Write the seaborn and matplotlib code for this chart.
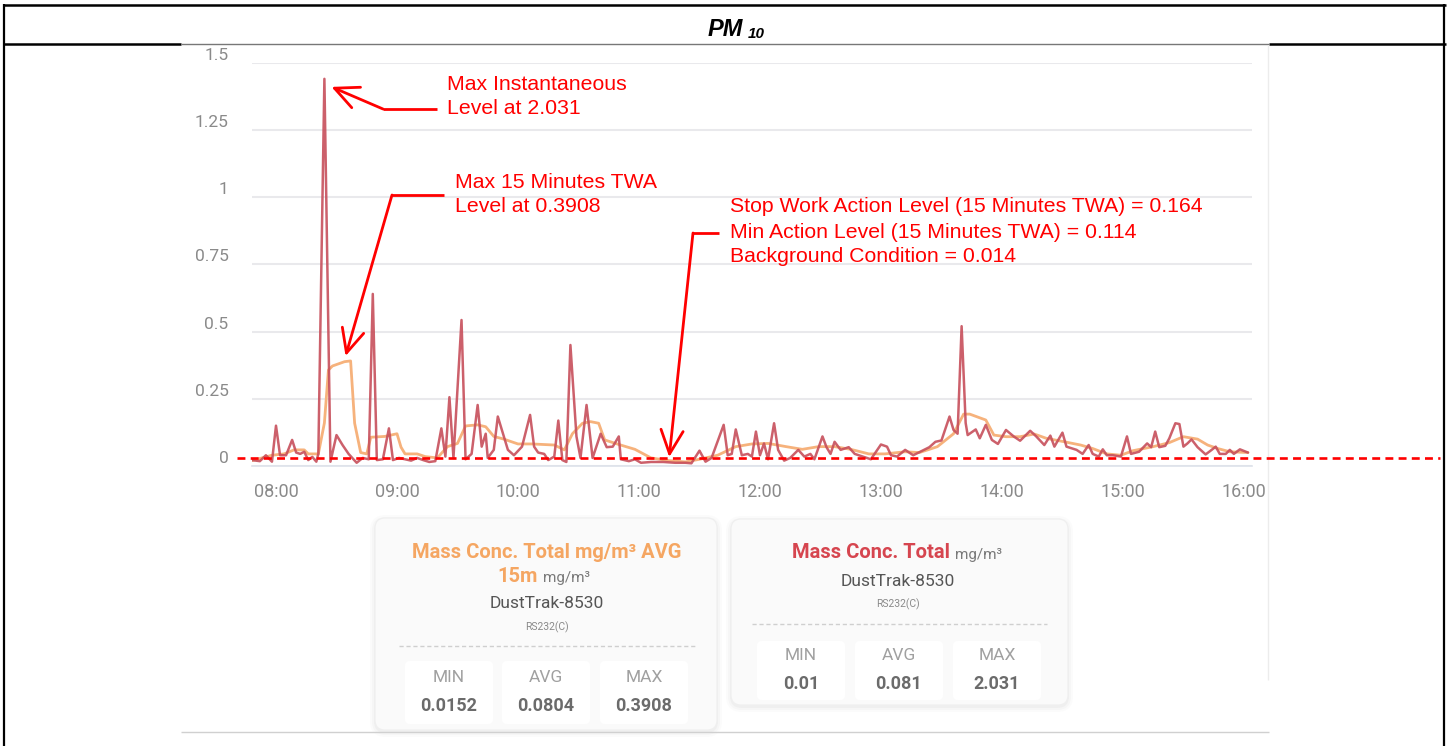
import numpy as np
import pandas as pd
import seaborn as sns
import matplotlib.pyplot as plt
import matplotlib.transforms as mtransforms
from matplotlib.patches import FancyBboxPatch
from matplotlib.lines import Line2D

# ---------------- data (minutes after 08:00, mg/m3) ----------------
red_t = [-12, -8, -5, -2, 0, 2, 5, 8, 10, 12, 14, 16, 18, 20, 21, 24, 27, 30, 33, 36,
         40, 43, 46, 48, 50, 53, 56, 58, 61, 64, 67, 70, 73, 76, 79, 82, 84, 86, 88, 92,
         94, 97, 100, 102, 104, 105, 108, 110, 113, 115, 118, 122, 126, 128, 130, 133, 135, 138, 140, 142,
         144, 146, 149, 151, 154, 157, 161, 164, 167, 170, 171, 175, 178, 181, 186, 192, 198, 203, 206, 210,
         213, 216, 222, 224, 226, 228, 231, 234, 236, 238, 240, 242, 244, 247, 249, 252, 255, 259, 262, 265,
         267, 271, 273, 275, 277, 280, 284, 287, 291, 295, 300, 303, 305, 308, 312, 316, 320, 324, 327, 330,
         334, 336, 338, 340, 342, 343, 347, 349, 352, 355, 358, 362, 366, 369, 374, 377, 381, 384, 386, 390,
         392, 397, 400, 403, 405, 408, 410, 412, 415, 419, 422, 424, 428, 432, 434, 436, 438, 441, 443, 446,
         448, 450, 452, 454, 457, 461, 464, 466, 468, 471, 473, 475, 478, 482]
red_v = [0.022, 0.018, 0.04, 0.016, 0.15, 0.04, 0.04, 0.097, 0.05, 0.045, 0.053, 0.022, 0.034, 0.016, 0.045, 1.44, 0.016, 0.115, 0.078, 0.045,
         0.012, 0.03, 0.025, 0.64, 0.022, 0.025, 0.14, 0.022, 0.03, 0.025, 0.02, 0.03, 0.022, 0.015, 0.018, 0.14, 0.035, 0.256, 0.03, 0.543,
         0.025, 0.045, 0.227, 0.072, 0.12, 0.03, 0.06, 0.184, 0.11, 0.06, 0.04, 0.072, 0.19, 0.072, 0.05, 0.045, 0.022, 0.035, 0.169, 0.022,
         0.015, 0.45, 0.11, 0.03, 0.227, 0.03, 0.12, 0.07, 0.072, 0.11, 0.025, 0.018, 0.025, 0.012, 0.015, 0.015, 0.012, 0.012, 0.01, 0.057,
         0.016, 0.03, 0.153, 0.04, 0.045, 0.136, 0.04, 0.045, 0.035, 0.128, 0.04, 0.084, 0.025, 0.159, 0.06, 0.02, 0.03, 0.06, 0.035, 0.045,
         0.025, 0.11, 0.07, 0.045, 0.09, 0.06, 0.07, 0.045, 0.035, 0.025, 0.08, 0.072, 0.04, 0.035, 0.06, 0.04, 0.055, 0.07, 0.09, 0.095,
         0.184, 0.134, 0.12, 0.52, 0.16, 0.115, 0.136, 0.103, 0.153, 0.097, 0.082, 0.134, 0.109, 0.094, 0.131, 0.11, 0.078, 0.113, 0.072, 0.124,
         0.072, 0.06, 0.045, 0.078, 0.045, 0.035, 0.062, 0.04, 0.04, 0.035, 0.11, 0.045, 0.053, 0.084, 0.07, 0.128, 0.07, 0.075, 0.103, 0.159,
         0.156, 0.072, 0.084, 0.099, 0.07, 0.043, 0.06, 0.072, 0.045, 0.045, 0.06, 0.045, 0.062, 0.05]

avg_t = [-12, -2, 4, 9, 14, 16, 21, 24, 26, 28, 34, 37, 39, 42, 45, 47, 54, 60, 62, 64,
         70, 74, 80, 85, 90, 94, 100, 104, 108, 113, 120, 127, 138, 143, 147, 152, 156, 160, 163, 170,
         178, 186, 195, 203, 210, 219, 228, 236, 244, 253, 261, 269, 277, 285, 294, 302, 312, 319, 324, 328,
         336, 341, 344, 352, 356, 362, 369, 376, 382, 391, 399, 405, 412, 419, 425, 435, 443, 450, 457, 462,
         467, 473, 482]
avg_v = [0.02, 0.04, 0.045, 0.06, 0.06, 0.045, 0.045, 0.16, 0.357, 0.372, 0.388, 0.3908, 0.159, 0.05, 0.045, 0.107, 0.11, 0.12, 0.07, 0.045,
         0.045, 0.035, 0.03, 0.072, 0.084, 0.149, 0.153, 0.146, 0.11, 0.1, 0.082, 0.082, 0.078, 0.06, 0.12, 0.159, 0.165, 0.159, 0.097, 0.08,
         0.062, 0.03, 0.02, 0.0152, 0.025, 0.04, 0.072, 0.082, 0.084, 0.072, 0.062, 0.072, 0.072, 0.062, 0.045, 0.045, 0.053, 0.05, 0.062, 0.072,
         0.12, 0.193, 0.193, 0.171, 0.115, 0.109, 0.109, 0.119, 0.103, 0.09, 0.078, 0.065, 0.045, 0.04, 0.057, 0.072, 0.087, 0.109, 0.1, 0.078,
         0.065, 0.053, 0.05]

y_ticks = [0, 0.25, 0.5, 0.75, 1, 1.25, 1.5]
y_tick_labels = ["0", "0.25", "0.5", "0.75", "1", "1.25", "1.5"]
x_ticks = [0, 60, 120, 180, 240, 300, 360, 420, 480]
x_tick_labels = ["08:00", "09:00", "10:00", "11:00", "12:00", "13:00", "14:00", "15:00", "16:00"]
dash_level = 0.03

header_main = "PM"
header_sub = "10"
ann1 = ["Max Instantaneous", "Level at 2.031"]
ann2 = ["Max 15 Minutes TWA", "Level at 0.3908"]
ann3 = ["Stop Work Action Level (15 Minutes TWA) = 0.164",
        "Min Action Level (15 Minutes TWA) = 0.114",
        "Background Condition = 0.014"]
card_stat_names = ["MIN", "AVG", "MAX"]
card1_stats = ["0.0152", "0.0804", "0.3908"]
card2_stats = ["0.01", "0.081", "2.031"]

# ---------------- figure ----------------
W, H = 1449, 746
sns.set_style("white")
plt.rcParams['font.family'] = ['Roboto', 'DejaVu Sans']

fig = plt.figure(figsize=(W / 100, H / 100), dpi=100)
fig.patch.set_facecolor('white')

def fx(x):
    return x / W

def fy(y):
    return 1 - y / H

ax = fig.add_axes([fx(252), fy(466), 1000 / W, (466 - 62.7) / H])

RED = "#c74f5b"
ORANGE = "#f6b27c"
df_red = pd.DataFrame({"t": red_t, "v": red_v})
df_avg = pd.DataFrame({"t": avg_t, "v": avg_v})
sns.lineplot(data=df_avg, x="t", y="v", ax=ax, color=ORANGE, lw=2.0, estimator=None, sort=False, zorder=3)
sns.lineplot(data=df_red, x="t", y="v", ax=ax, color=RED, lw=1.8, alpha=0.9, estimator=None, sort=False, zorder=4)

ax.set_xlim(-11.9, 484)
ax.set_ylim(0, 1.5)
ax.set_xlabel("")
ax.set_ylabel("")
ax.set_yticks(y_ticks)
ax.set_yticklabels(y_tick_labels)
ax.set_xticks(x_ticks)
ax.set_xticklabels(x_tick_labels)
ax.grid(axis='y', color='#e9e9ec', lw=1.5)
ax.grid(axis='x', visible=False)
ax.set_axisbelow(True)
for s in ['left', 'top', 'right']:
    ax.spines[s].set_visible(False)
ax.spines['bottom'].set_color('#dde2ea')
ax.spines['bottom'].set_linewidth(1.2)
ax.tick_params(axis='y', length=0, pad=17, labelcolor='#8a8a8a', labelsize=12.5)
ax.tick_params(axis='x', length=6, width=1, color='#d4dbe6', pad=6, labelcolor='#8a8a8a', labelsize=13)
off = mtransforms.ScaledTranslation(0, 9 / 100, fig.dpi_scale_trans)
for lab in ax.get_yticklabels():
    lab.set_transform(lab.get_transform() + off)

# red dashed reference line across the panel
blend = mtransforms.blended_transform_factory(fig.transFigure, ax.transData)
fig.add_artist(Line2D([fx(237), fx(1440)], [dash_level, dash_level], transform=blend,
                      color='#ff0000', lw=1.9, ls=(0, (3.0, 2.0)), zorder=10))

# ---------------- annotations ----------------
AFONT = ['Liberation Sans', 'DejaVu Sans']
def put_lines(lines, x, ys, size=15.3):
    for txt, y in zip(lines, ys):
        fig.text(fx(x), fy(y), txt, color='#ff0000', fontsize=size, family=AFONT,
                 ha='left', va='center')

put_lines(ann1, 447, [84, 108])
put_lines(ann2, 455, [182, 207])
put_lines(ann3, 730, [207, 232, 256])

def elbow_arrow(x0, y0, xe, ye, tip):
    fig.add_artist(Line2D([fx(x0), fx(xe)], [fy(y0), fy(ye)], transform=fig.transFigure,
                          color='#ff0000', lw=2.0, solid_capstyle='butt'))
    ax.annotate("", xy=tip, xycoords='data', xytext=(xe, H - ye), textcoords='figure pixels',
                arrowprops=dict(arrowstyle='->,head_length=1.7,head_width=0.8', color='#ff0000',
                                lw=2.0, shrinkA=0, shrinkB=0), annotation_clip=False)

i_max = int(np.argmax(red_v))
j_max = int(np.argmax(avg_v))
elbow_arrow(437, 109, 383, 109, (red_t[i_max] + 3.5, red_v[i_max] - 0.03))
elbow_arrow(444, 195, 392, 195, (avg_t[j_max] - 2.5, avg_v[j_max] + 0.018))
elbow_arrow(719, 233, 693, 233, (195, dash_level + 0.003))

# ---------------- table frame / header ----------------
def fline(x0, y0, x1, y1, color='black', lw=1.6):
    fig.add_artist(Line2D([fx(x0), fx(x1)], [fy(y0), fy(y1)], transform=fig.transFigure,
                          color=color, lw=lw, solid_capstyle='butt'))

fline(3, 5, 1446, 5, lw=1.8)
fline(4, 4, 4, 746, lw=1.6)
fline(1444, 4, 1444, 746, lw=1.6)
fline(3, 44, 181, 44, lw=1.8)
fline(1269, 44, 1446, 44, lw=1.8)
fline(181, 43.5, 1269, 43.5, color='#777777', lw=1.0)
fline(1268, 45, 1268, 680, color='#ececec', lw=1.0)
fline(181, 732, 1269, 732, color='#d0d0d0', lw=1.0)

HFONT = ['Liberation Sans', 'DejaVu Sans']
fig.text(fx(743), fy(29), header_main, fontsize=17, fontweight='bold', fontstyle='italic',
         family=HFONT, ha='right', va='center', color='black')
fig.text(fx(748), fy(34), header_sub, fontsize=11, fontweight='bold', fontstyle='italic',
         family=HFONT, ha='left', va='center', color='black')

# ---------------- cards ----------------
def rbox(x0, y0, x1, y1, face, edge='none', r=8, z=1, alpha=1.0, lw=0.8):
    p = FancyBboxPatch((fx(x0), fy(y1)), fx(x1) - fx(x0), fy(y0) - fy(y1),
                       boxstyle=f"round,pad=0,rounding_size={r / W}", transform=fig.transFigure,
                       facecolor=face, edgecolor=edge, lw=lw, zorder=z, alpha=alpha,
                       mutation_aspect=W / H)
    fig.add_artist(p)

def card(x0, y0, x1, y1):
    for k, a in zip([6, 4, 2], [0.035, 0.05, 0.07]):
        rbox(x0 - k + 1, y0 - k + 3, x1 + k - 1, y1 + k + 1, '#9a9a9a', r=10 + k, z=1, alpha=a)
    rbox(x0, y0, x1, y1, '#fafafa', edge='#efefef', r=10, z=2)

def stats(centers, box_y0, box_y1, lab_y, val_y, values, halfw=44):
    for cx, name, val in zip(centers, card_stat_names, values):
        rbox(cx - halfw, box_y0, cx + halfw, box_y1, '#ffffff', r=5, z=3)
        fig.text(fx(cx), fy(lab_y), name, fontsize=12.5, color='#a0a0a0', ha='center', va='center', zorder=4)
        fig.text(fx(cx), fy(val_y), val, fontsize=13, fontweight='bold', color='#6b6b6b',
                 ha='center', va='center', zorder=4)

# card 1 (15-min average)
card(375, 518, 717, 730)
fig.text(fx(547), fy(553), "Mass Conc. Total mg/m³ AVG", fontsize=14.5, fontweight='bold',
         color='#f5a662', ha='center', va='center', zorder=4)
fig.text(fx(538), fy(576), "15m", fontsize=14.5, fontweight='bold', color='#f5a662',
         ha='right', va='center', zorder=4)
fig.text(fx(543), fy(578), "mg/m³", fontsize=11, color='#7a7a7a', ha='left', va='center', zorder=4)
fig.text(fx(547), fy(604), "DustTrak-8530", fontsize=12.5, color='#555555', ha='center', va='center', zorder=4)
fig.text(fx(547), fy(627), "RS232(C)", fontsize=7.5, color='#8a8a8a', ha='center', va='center', zorder=4)
fig.add_artist(Line2D([fx(399), fx(695)], [fy(646), fy(646)], transform=fig.transFigure,
                      color='#cfcfcf', lw=1.0, ls=(0, (3, 2)), zorder=4))
stats([449, 546, 644], 661, 724, 677, 706, card1_stats)

# card 2 (instantaneous)
card(731, 519, 1068, 705)
fig.text(fx(950), fy(553), "Mass Conc. Total", fontsize=14.5, fontweight='bold', color='#d6454f',
         ha='right', va='center', zorder=4)
fig.text(fx(955), fy(555), "mg/m³", fontsize=11, color='#7a7a7a', ha='left', va='center', zorder=4)
fig.text(fx(898), fy(581), "DustTrak-8530", fontsize=12.5, color='#555555', ha='center', va='center', zorder=4)
fig.text(fx(898), fy(604), "RS232(C)", fontsize=7.5, color='#8a8a8a', ha='center', va='center', zorder=4)
fig.add_artist(Line2D([fx(752), fx(1047)], [fy(624), fy(624)], transform=fig.transFigure,
                      color='#cfcfcf', lw=1.0, ls=(0, (3, 2)), zorder=4))
stats([801, 899, 997], 641, 700, 655, 684, card2_stats)

fig.savefig("out.png", dpi=100, facecolor='white')
